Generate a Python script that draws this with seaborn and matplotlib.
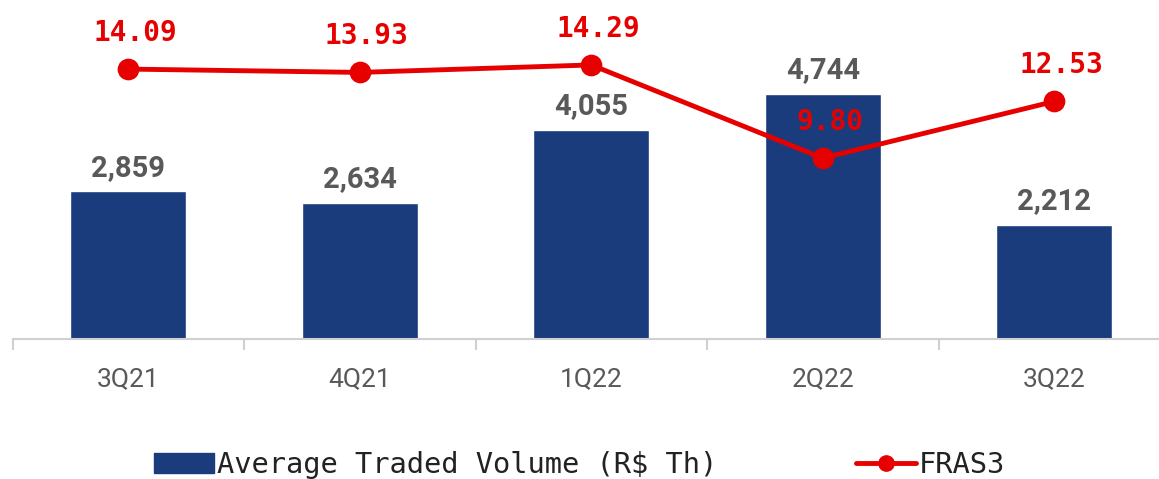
import matplotlib
matplotlib.use("Agg")
import matplotlib.pyplot as plt
import seaborn as sns
import numpy as np
from matplotlib.patches import Patch
from matplotlib.lines import Line2D

quarters = ["3Q21", "4Q21", "1Q22", "2Q22", "3Q22"]
volume = [2859, 2634, 4055, 4744, 2212]
price = [14.09, 13.93, 14.29, 9.80, 12.53]
volume_labels = ["2,859", "2,634", "4,055", "4,744", "2,212"]
price_labels = ["14.09", "13.93", "14.29", "9.80", "12.53"]

NAVY = "#1a3c7c"
RED = "#e60000"
GRAY = "#595959"

sns.set_theme(style="white")
plt.rcParams['font.family'] = ['Roboto', 'DejaVu Sans']

W, H = 1159, 479
fig = plt.figure(figsize=(W/100, H/100), dpi=100)
ax = fig.add_axes([12.5/W, (H-339)/H, 1157.5/W, 339/H])

sns.barplot(x=quarters, y=volume, ax=ax, color=NAVY, width=0.5, saturation=1)
ax.set_ylim(0, 6570)
ax.set_xlim(-0.5, 4.5)

ax2 = ax.twinx()
sns.pointplot(x=quarters, y=price, ax=ax2, color=RED, markers="o",
              markersize=13, linewidth=3.5)
ax2.set_ylim(1.08, 17.42)
ax2.set_xlim(-0.5, 4.5)

for a in (ax, ax2):
    for s in a.spines.values():
        s.set_visible(False)
    a.set_yticks([])
    a.set_ylabel("")
    a.set_xlabel("")

ax.spines['bottom'].set_visible(True)
ax.spines['bottom'].set_color("#d0d0d0")
ax.spines['bottom'].set_linewidth(1.5)
ax.set_xticks(range(5))
ax.set_xticklabels(quarters, fontsize=19, color=GRAY)
ax.tick_params(axis='x', which='major', length=0, pad=20)
ax.set_xticks(np.arange(-0.5, 5.0, 1.0), minor=True)
ax.tick_params(axis='x', which='minor', length=8, width=1.5, color="#d0d0d0", bottom=True)

for i, (v, lab) in enumerate(zip(volume, volume_labels)):
    ax.annotate(lab, (i, v), xytext=(0, 7), textcoords="offset points",
                ha="center", va="bottom", fontsize=21, fontweight="bold", color=GRAY)

for i, (p, lab) in enumerate(zip(price, price_labels)):
    ax2.annotate(lab, (i, p), xytext=(5, 16), textcoords="offset points",
                 ha="center", va="bottom", fontsize=20, fontweight="bold", color=RED,
                 family=["DejaVu Sans Mono"])

handles = [Patch(facecolor=NAVY, edgecolor=NAVY),
           Line2D([0], [0], color=RED, lw=3.5, marker="o", markersize=11)]
leg = fig.legend(handles, ["Average Traded Volume (R$ Th)", "FRAS3"],
                 loc="center", bbox_to_anchor=(0.5, 14/H), ncol=2,
                 frameon=False, handlelength=2.1, handletextpad=0.1,
                 columnspacing=4.8, prop={"family": "DejaVu Sans Mono", "size": 20.7})
for t in leg.get_texts():
    t.set_color("#222222")

fig.savefig("out.png", dpi=100)
